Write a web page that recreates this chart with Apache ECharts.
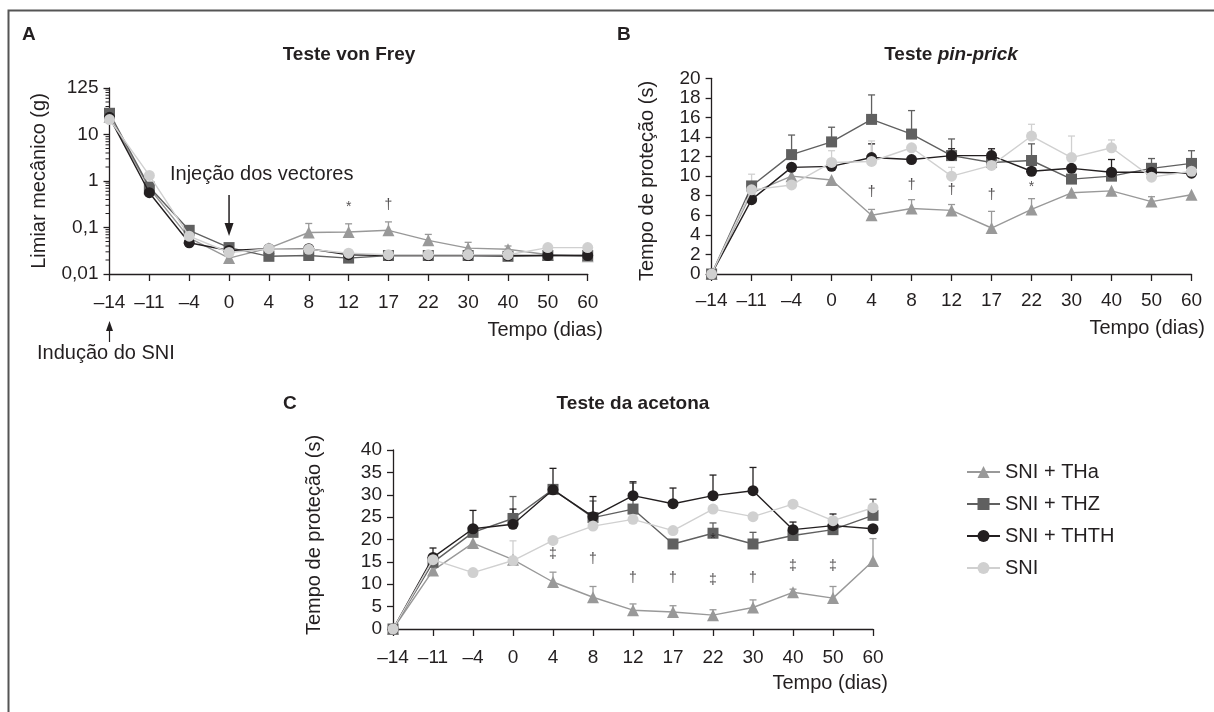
<!DOCTYPE html>
<html><head><meta charset="utf-8">
<script src="https://cdn.jsdelivr.net/npm/echarts@6/dist/echarts.min.js"></script>
<style>html,body{margin:0;padding:0;background:#fff}#c{width:1214px;height:712px}</style>
</head><body><div id="c"></div>
<script>
// ---------- data ----------
const days = ['\u201314','\u201311','\u20134','0','4','8','12','17','22','30','40','50','60'];
const groupNames = ['SNI + THa','SNI + THZ','SNI + THTH','SNI'];
const yTicksA = {'-2':'0,01','-1':'0,1','0':'1','1':'10','2':'125'};
const minorTicksA = [0.02,0.03,0.04,0.05,0.06,0.07,0.08,0.09,0.2,0.3,0.4,0.5,0.6,0.7,0.8,0.9,2,3,4,5,6,7,8,9,20,30,40,50,60,70,80,90];

// A - von Frey, limiar mecânico (g)
const vfTHa  = [24, 0.70, 0.060, 0.022, 0.036, 0.078, 0.080, 0.087, 0.053, 0.036, 0.034, 0.026, 0.024];
const vfTHZ  = [28.6, 0.74, 0.087, 0.037, 0.024, 0.025, 0.022, 0.025, 0.025, 0.025, 0.024, 0.025, 0.025];
const vfTHTH = [23.4, 0.56, 0.047, 0.032, 0.035, 0.035, 0.026, 0.025, 0.025, 0.025, 0.025, 0.025, 0.025];
const vfSNI  = [21, 1.32, 0.065, 0.029, 0.035, 0.034, 0.028, 0.026, 0.026, 0.026, 0.026, 0.037, 0.037];
const vfTHaErr  = [null,null,null,null,null,0.122,0.120,0.132,0.071,0.048,0.040,null,null];
const vfTHZErr  = [null,null,null,null,null,null,null,null,null,null,null,null,null];
const vfTHTHErr = [null,null,null,null,null,null,null,null,null,null,null,null,null];
const vfSNIErr  = [null,null,null,null,null,null,null,null,null,null,null,null,null];
const vfMarks = [['12',0.27,'*'],['17',0.30,'\u2020']];

// B - pin-prick, tempo de proteção (s)
const ppTHa  = [0, 8.3, 10.0, 9.6, 6.0, 6.7, 6.5, 4.7, 6.6, 8.3, 8.5, 7.4, 8.1];
const ppTHZ  = [0, 9.0, 12.2, 13.5, 15.8, 14.3, 12.1, 11.4, 11.6, 9.7, 10.0, 10.8, 11.3];
const ppTHTH = [0, 7.6, 10.9, 11.0, 11.9, 11.7, 12.1, 12.1, 10.5, 10.8, 10.4, 10.4, 10.3];
const ppSNI  = [0, 8.6, 9.1, 11.4, 11.5, 12.9, 10.0, 11.1, 14.1, 11.9, 12.9, 9.9, 10.5];
const ppTHaErr  = [null,null,null,null,6.6,7.6,7.1,6.4,7.7,null,null,7.9,null];
const ppTHZErr  = [null,null,14.2,15.0,18.3,16.7,13.8,null,13.3,null,null,11.8,12.6];
const ppTHTHErr = [null,null,null,null,13.3,null,12.8,12.8,null,null,11.7,null,null];
const ppSNIErr  = [null,10.2,null,12.6,13.6,null,10.9,null,15.3,14.1,13.7,null,null];
const ppMarks = [['4',8.4,'\u2020'],['8',9.1,'\u2020'],['12',8.6,'\u2020'],['17',8.1,'\u2020'],['22',8.9,'*']];

// C - acetona, tempo de proteção (s)
const acTHa  = [0, 13.1, 19.2, 15.5, 10.5, 7.1, 4.2, 3.8, 3.1, 4.8, 8.2, 6.9, 15.2];
const acTHZ  = [0, 14.9, 21.6, 24.7, 31.2, 24.9, 26.8, 19.0, 21.4, 19.0, 20.9, 22.2, 25.4];
const acTHTH = [0, 16.0, 22.4, 23.4, 31.1, 25.1, 29.8, 28.0, 29.8, 30.9, 22.2, 23.1, 22.4];
const acSNI  = [0, 15.5, 12.6, 15.3, 19.8, 23.0, 24.5, 22.0, 26.8, 25.1, 27.9, 24.2, 27.1];
const acTHaErr  = [null,null,null,null,12.7,9.5,5.6,5.2,4.3,6.5,8.9,9.5,20.2];
const acTHZErr  = [null,null,null,29.6,null,28.6,32.6,null,23.7,21.6,null,null,29.0];
const acTHTHErr = [null,18.1,26.5,26.8,35.9,29.6,32.9,31.5,34.4,36.1,23.9,25.7,null];
const acSNIErr  = [null,null,null,19.7,null,null,null,null,null,null,null,null,null];
const acMarks = [['4',16.7,'\u2021'],['8',15.5,'\u2020'],['12',11.4,'\u2020'],['17',11.4,'\u2020'],['22',11.0,'\u2021'],['30',11.4,'\u2020'],['40',14.0,'\u2021'],['50',14.0,'\u2021'],['22',20.0,'*']];

// ---------- styling ----------
const FONT = '"Liberation Sans", Arial, Helvetica, sans-serif';
const INK = '#231f20';
const COLORS = ['#999999', '#606060', '#231f20', '#d0d0d0'];
const SYMBOLS = ['triangle', 'rect', 'circle', 'circle'];
const SIZES = [12, 11, 11, 11];

const chart = echarts.init(document.getElementById('c'));

function catAxis(gi, margin) {
  return {type:'category', gridIndex:gi, data:days, boundaryGap:false,
    axisLine:{lineStyle:{color:INK, width:1.3}},
    axisTick:{alignWithLabel:true, length:7, lineStyle:{color:INK, width:1.3}},
    axisLabel:{color:INK, fontSize:19, fontFamily:FONT, margin:margin, interval:0},
    splitLine:{show:false}};
}
function valAxis(gi, max, interval) {
  return {type:'value', gridIndex:gi, min:0, max:max, interval:interval,
    axisLine:{show:true, lineStyle:{color:INK, width:1.3}},
    axisTick:{show:true, length:6, lineStyle:{color:INK, width:1.3}},
    axisLabel:{color:INK, fontSize:19, fontFamily:FONT, margin:11},
    splitLine:{show:false}};
}
function errItem(params, api) {
  const p0 = api.coord([api.value(0), api.value(1)]);
  const p1 = api.coord([api.value(0), api.value(2)]);
  const st = {stroke: api.visual('color'), lineWidth: 1.3};
  return {type:'group', children:[
    {type:'line', shape:{x1:p0[0], y1:p0[1], x2:p1[0], y2:p1[1]}, style:st},
    {type:'line', shape:{x1:p1[0]-3.5, y1:p1[1], x2:p1[0]+3.5, y2:p1[1]}, style:st}
  ]};
}
function minorTickItem(params, api) {
  const p = api.coord([0, api.value(0)]);
  return {type:'line', shape:{x1:p[0]-4, y1:p[1], x2:p[0], y2:p[1]}, style:{stroke:INK, lineWidth:1}};
}
const series = [];
function addPanel(gi, sets, errs, marks) {
  sets.forEach((vals, k) => {
    series.push({type:'custom', name:groupNames[k] + ' (erro)', xAxisIndex:gi, yAxisIndex:gi,
      renderItem:errItem, silent:true, z:2,
      data: errs[k].map((t, i) => t == null ? null : [i, vals[i], t]).filter(d => d),
      encode:{x:0, y:[1, 2]}, itemStyle:{color:COLORS[k]}});
  });
  sets.forEach((vals, k) => {
    series.push({type:'line', name:groupNames[k], xAxisIndex:gi, yAxisIndex:gi, data:vals,
      symbol:SYMBOLS[k], symbolSize:SIZES[k], showAllSymbol:true,
      lineStyle:{color:COLORS[k], width:1.4}, itemStyle:{color:COLORS[k]}, z:3 + k});
  });
  series.push({type:'scatter', xAxisIndex:gi, yAxisIndex:gi, silent:true, z:10,
    data: marks.map(m => ({value:[m[0], m[1]], mark:m[2]})),
    symbolSize:1, itemStyle:{color:'rgba(0,0,0,0)'},
    label:{show:true, position:'inside', formatter:p => p.data.mark, color:INK, fontSize:14, fontFamily:FONT}});
}
addPanel(0, [vfTHa, vfTHZ, vfTHTH, vfSNI], [vfTHaErr, vfTHZErr, vfTHTHErr, vfSNIErr], vfMarks);
addPanel(1, [ppTHa, ppTHZ, ppTHTH, ppSNI], [ppTHaErr, ppTHZErr, ppTHTHErr, ppSNIErr], ppMarks);
addPanel(2, [acTHa, acTHZ, acTHTH, acSNI], [acTHaErr, acTHZErr, acTHTHErr, acSNIErr], acMarks);
series.push({type:'custom', name:'minor ticks', xAxisIndex:0, yAxisIndex:0, silent:true, z:1, clip:false,
  renderItem:minorTickItem, data:minorTicksA.map(v => [v]), encode:{y:0}});

const logAxis = {type:'log', logBase:10, gridIndex:0, min:0.01, max:100,
  axisLine:{show:true, lineStyle:{color:INK, width:1.3}},
  axisTick:{show:true, length:6, lineStyle:{color:INK, width:1.3}},
  axisLabel:{color:INK, fontSize:19, fontFamily:FONT, margin:11,
    formatter: v => yTicksA[String(Math.round(Math.log10(v)))] || ''},
  splitLine:{show:false}};

chart.setOption({
  animation:false,
  backgroundColor:'#fff',
  textStyle:{fontFamily:FONT},
  grid:[
    {left:109.5, right:626.3, top:88, bottom:438},
    {left:711.6, right:22.5, top:78.3, bottom:438},
    {left:393, right:341, top:450, bottom:83}
  ],
  xAxis:[catAxis(0, 19), catAxis(1, 17), catAxis(2, 19)],
  yAxis:[logAxis, valAxis(1, 20, 2), valAxis(2, 40, 5)],
  legend:{data:groupNames, orient:'vertical', left:961, top:457, itemWidth:33, itemHeight:15, itemGap:12,
    textStyle:{fontSize:20, color:INK, fontFamily:FONT}, selectedMode:false},
  series:series
});

// ---------- annotations ----------
const x0 = chart.convertToPixel({gridIndex:0}, ['0', 1])[0];
const xm14 = chart.convertToPixel({gridIndex:0}, ['\u201314', 1])[0];
const txt = (x, y, text, opts) => Object.assign({type:'text', x:x, y:y,
  style:Object.assign({text:text, fill:INK, font:'20px ' + FONT, align:'left', verticalAlign:'middle'}, (opts && opts.style) || {})},
  (opts && opts.el) || {});
const graphic = [
  {type:'polyline', shape:{points:[[8.5,712],[8.5,10.5],[1214,10.5]]}, style:{stroke:'#555', lineWidth:2, fill:null}},
  txt(22, 35, 'A', {style:{font:'bold 19px ' + FONT}}),
  txt(617, 35, 'B', {style:{font:'bold 19px ' + FONT}}),
  txt(283, 404, 'C', {style:{font:'bold 19px ' + FONT}}),
  txt(349, 55, 'Teste von Frey', {style:{font:'bold 19px ' + FONT, align:'center'}}),
  {type:'text', x:951, y:55, style:{text:'{n|Teste }{i|pin-prick}', align:'center', verticalAlign:'middle',
    rich:{n:{font:'bold 19px ' + FONT, fill:INK}, i:{font:'italic bold 19px ' + FONT, fill:INK}}}},
  txt(633, 404, 'Teste da acetona', {style:{font:'bold 19px ' + FONT, align:'center'}}),
  txt(39.5, 181, 'Limiar mecânico (g)', {style:{align:'center'}, el:{rotation:Math.PI/2}}),
  txt(647, 181, 'Tempo de proteção (s)', {style:{align:'center'}, el:{rotation:Math.PI/2}}),
  txt(314, 535, 'Tempo de proteção (s)', {style:{align:'center'}, el:{rotation:Math.PI/2}}),
  txt(603, 330, 'Tempo (dias)', {style:{align:'right'}}),
  txt(1205, 328, 'Tempo (dias)', {style:{align:'right'}}),
  txt(888, 683, 'Tempo (dias)', {style:{align:'right'}}),
  txt(170, 174, 'Injeção dos vectores'),
  {type:'line', shape:{x1:x0, y1:195, x2:x0, y2:230}, style:{stroke:INK, lineWidth:1.5}},
  {type:'polygon', shape:{points:[[x0-4.5,223],[x0+4.5,223],[x0,236]]}, style:{fill:INK}},
  txt(37, 353, 'Indução do SNI'),
  {type:'line', shape:{x1:xm14, y1:327, x2:xm14, y2:342}, style:{stroke:INK, lineWidth:1.2}},
  {type:'polygon', shape:{points:[[xm14-3.5,331],[xm14+3.5,331],[xm14,321]]}, style:{fill:INK}}
];
chart.setOption({graphic:graphic});
</script>
</body></html>
